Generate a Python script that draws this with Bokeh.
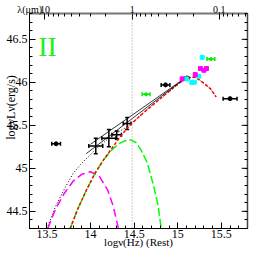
import numpy as np
from bokeh.plotting import figure
from bokeh.models import LinearAxis, FixedTicker, Label, Span, Whisker, TeeHead, ColumnDataSource
from bokeh.embed import file_html
from bokeh.resources import INLINE

# ---------------- data ----------------
LOG_NU_1UM = 14.477          # log nu (Hz) at lambda = 1 micron
lam_major = [10, 1, 0.1]
lam_major_labels = ["10", "1", "0.1"]
lam_minor = [9, 8, 7, 6, 5, 4, 3, 2, 0.9, 0.8, 0.7, 0.6, 0.5, 0.4, 0.3, 0.2,
             0.09, 0.08, 0.07, 0.06, 0.05]

x_major = [13.5, 14.0, 14.5, 15.0, 15.5]
y_major = [44.5, 45.0, 45.5, 46.0, 46.5]

# photometry with x and y errors (big crosses)
phot_x = [14.06, 14.21, 14.30, 14.42]
phot_y = [45.26, 45.35, 45.39, 45.52]
phot_xerr = [0.08, 0.08, 0.055, 0.045]
phot_yerr = [0.09, 0.10, 0.045, 0.07]

# black points with x error only
blk_x = [13.605, 14.86, 15.105, 15.60]
blk_y = [45.285, 45.97, 46.05, 45.81]
blk_xerr = [0.05, 0.05, 0.02, 0.08]

# green points with x error
grn_x = [14.637, 15.38]
grn_y = [45.86, 46.27]
grn_xerr = [0.045, 0.045]

# cyan / magenta squares
cyan_x = [15.10, 15.16, 15.19, 15.24, 15.28]
cyan_y = [46.04, 46.00, 46.00, 46.07, 46.29]
magp_x = [15.05, 15.20, 15.26, 15.30, 15.33]
magp_y = [46.04, 46.09, 46.16, 46.14, 46.16]

# model curves
mag_x = [13.51, 13.6, 13.7, 13.8, 13.9, 14.0, 14.1, 14.2, 14.26, 14.32]
mag_y = [44.30, 44.53, 44.71, 44.85, 44.93, 44.96, 44.91, 44.74, 44.56, 44.30]

grn_cx = [13.767, 13.85, 13.95, 14.05, 14.15, 14.25, 14.33, 14.40, 14.46, 14.52,
          14.575, 14.648, 14.72, 14.776, 14.81]
grn_cy = [44.30, 44.52, 44.74, 44.94, 45.10, 45.22, 45.29, 45.32, 45.33, 45.30,
          45.22, 45.07, 44.81, 44.56, 44.30]

red_x = [13.767, 13.85, 13.95, 14.05, 14.15, 14.25, 14.35, 14.45, 14.6, 14.8,
         15.0, 15.1, 15.2, 15.3, 15.38, 15.44]
red_y = [44.30, 44.52, 44.74, 44.94, 45.10, 45.24, 45.38, 45.50, 45.64, 45.81,
         45.98, 46.05, 46.06, 45.99, 45.92, 45.83]

tot_x = [13.5, 13.6, 13.7, 13.8, 13.9, 14.0, 14.1, 14.2, 14.3, 14.4, 14.5, 14.7,
         14.9, 15.1, 15.2, 15.3, 15.38, 15.44]
tot_y = [44.30, 44.56, 44.76, 44.94, 45.06, 45.16, 45.26, 45.34, 45.41, 45.47,
         45.55, 45.73, 45.89, 46.05, 46.06, 45.99, 45.92, 45.83]

fitA_x = [13.95, 15.10]
fitA_y = [45.17, 46.06]
fitB_x = [14.00, 15.10]
fitB_y = [45.28, 46.06]

# ---------------- figure ----------------
XR = (13.3, 15.8)
YR = (44.3, 46.8)
W = H = 254
FL, FR, FT, FB = 29, 255, 17, 236   # intended frame edges on the page


def px2x(px):
    return XR[0] + (px - FL) * (XR[1] - XR[0]) / (FR - FL)


def py2y(py):
    return YR[1] - (py - FT) * (YR[1] - YR[0]) / (FB - FT)


p = figure(width=W, height=H, x_range=XR, y_range=YR, output_backend="svg",
           toolbar_location=None, min_border_left=FL - 8, min_border_right=W - (FR - 8),
           min_border_top=FT - 8, min_border_bottom=H - (FB - 8))
p.xgrid.visible = False
p.ygrid.visible = False
p.outline_line_color = "black"
p.background_fill_color = "white"
p.border_fill_color = "white"

FONT = "Liberation Serif"
minor_y = [float(v) for v in np.round(np.arange(44.3, 46.81, 0.1), 2)]
minor_x = [float(v) for v in np.round(np.arange(13.3, 15.81, 0.1), 2)]


def style_axis(ax, size="12px"):
    ax.major_tick_in = 6
    ax.major_tick_out = 0
    ax.minor_tick_in = 3
    ax.minor_tick_out = 0
    ax.axis_line_color = "black"
    ax.major_tick_line_color = "black"
    ax.minor_tick_line_color = "black"
    ax.major_label_text_font = FONT
    ax.major_label_text_color = "black"
    ax.major_label_text_font_size = size
    ax.axis_label_text_font = FONT
    ax.axis_label_text_font_style = "normal"
    ax.axis_label_text_font_size = "12px"
    ax.axis_label_text_color = "black"


# bottom axis
p.xaxis.ticker = FixedTicker(ticks=x_major, minor_ticks=minor_x)
style_axis(p.xaxis[0])
p.xaxis.major_label_standoff = 1
p.xaxis.major_label_overrides = {v: f"{v:g}" for v in x_major}
p.xaxis.axis_label = "logν(Hz) (Rest)"
p.xaxis.axis_label_text_font_size = "11px"
p.xaxis.axis_label_standoff = -5

# left axis
p.yaxis.ticker = FixedTicker(ticks=y_major, minor_ticks=minor_y)
style_axis(p.yaxis[0])
p.yaxis.major_label_standoff = 2
p.yaxis.major_label_overrides = {v: f"{v:g}" for v in y_major}
p.yaxis.axis_label = "\u00a0" * 9 + "logνLν(erg/s)"
p.yaxis.axis_label_standoff = -14

# top axis: wavelength in micron
lam_pos = [float(LOG_NU_1UM - np.log10(l)) for l in lam_major]
lam_minor_pos = [float(LOG_NU_1UM - np.log10(l)) for l in lam_minor]
lam_title_pos = float(XR[0] + 0.002)
top = LinearAxis(ticker=FixedTicker(ticks=[lam_title_pos] + lam_pos, minor_ticks=lam_minor_pos))
style_axis(top, size="10px")
top.major_label_overrides = dict([(lam_title_pos, "λ(μm)")] + list(zip(lam_pos, lam_major_labels)))
top.major_label_standoff = -1
top.axis_line_color = "#777777"
top.axis_line_width = 2
p.add_layout(top, "above")

# right axis: ticks only
right = LinearAxis(ticker=FixedTicker(ticks=[], minor_ticks=minor_y))
style_axis(right)
right.axis_line_color = "#444444"
right.axis_line_width = 1.5
p.add_layout(right, "right")
tick_len = 6 * (XR[1] - XR[0]) / (FR - FL)
p.segment(x0=[XR[1]] * len(y_major), y0=y_major, x1=[XR[1] - tick_len] * len(y_major), y1=y_major,
          line_color="black", line_width=1)

# 1 micron line
p.add_layout(Span(location=LOG_NU_1UM, dimension="height", line_color="#999999",
                  line_dash="1 2", line_width=1))

# curves
p.line(tot_x, tot_y, line_color="black", line_dash="1 2", line_width=1)
p.line(mag_x, mag_y, line_color="#ff00ff", line_dash="8 4", line_width=1.5)
p.line(grn_cx, grn_cy, line_color="#00ff00", line_dash="8 3", line_width=1.5)
p.line(red_x, red_y, line_color="#ff0000", line_dash="3 2", line_width=1.5)
p.line(fitA_x, fitA_y, line_color="black", line_width=0.8)
p.line(fitB_x, fitB_y, line_color="black", line_width=0.8)


def bars(base_vals, centers, errs, color, dim, width=1.5, cap=4):
    src = ColumnDataSource(dict(b=base_vals, lo=[a - e for a, e in zip(centers, errs)],
                                hi=[a + e for a, e in zip(centers, errs)]))
    w = Whisker(source=src, base="b", lower="lo", upper="hi", dimension=dim,
                line_color=color, line_width=width,
                lower_head=TeeHead(size=cap, line_color=color, line_width=width),
                upper_head=TeeHead(size=cap, line_color=color, line_width=width))
    p.add_layout(w)


bars(phot_y, phot_x, phot_xerr, "black", "width")
bars(phot_x, phot_y, phot_yerr, "black", "height")
bars(blk_y, blk_x, blk_xerr, "black", "width")
p.scatter(blk_x, blk_y, marker="circle", size=4, color="black")
bars(grn_y, grn_x, grn_xerr, "#00ee00", "width")
p.scatter(grn_x, grn_y, marker="circle", size=3, color="#00ee00")
p.scatter(cyan_x, cyan_y, marker="square", size=4, color="#00ffff")
p.scatter(magp_x, magp_y, marker="square", size=4, color="#ff00ff")

# panel label
p.add_layout(Label(x=px2x(38), y=py2y(51), text="II", text_font=FONT,
                   text_font_size="28px", text_color="#22ee22", text_baseline="alphabetic"))

open("out.html", "w").write(file_html(p, INLINE))
